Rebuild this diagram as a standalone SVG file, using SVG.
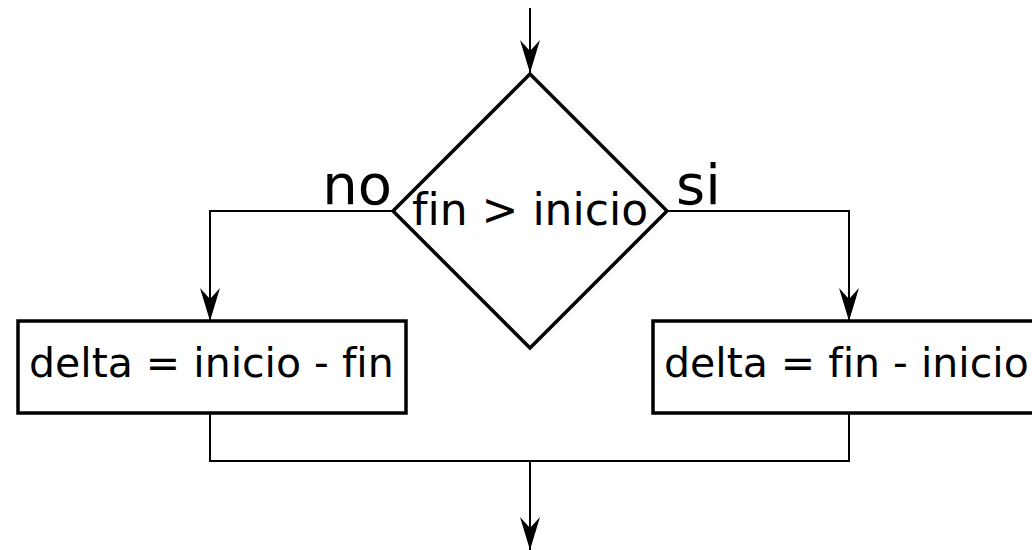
<svg xmlns="http://www.w3.org/2000/svg" width="1032" height="550" viewBox="0 0 1032 550">
<defs>
<style>
.shape{fill:#ffffff;stroke:#000000;stroke-width:3.5}
.conn{fill:none;stroke:#000000;stroke-width:2}
.t{font-family:"DejaVu Sans",sans-serif;fill:#000000;font-variant-ligatures:none;font-feature-settings:"liga" 0}
</style>
<marker id="arrow" markerUnits="userSpaceOnUse" viewBox="-34 -11 35 22" markerWidth="35" markerHeight="22" refX="0" refY="0" orient="auto">
<path d="M0,0 L-33,-10 L-22,0 L-33,10 Z" fill="#000000"/>
</marker>
</defs>
<rect width="1032" height="550" fill="#ffffff"/>
<g id="connectors">
<path class="conn" d="M530,8 V73" marker-end="url(#arrow)"/>
<path class="conn" d="M393,211 H210 V321" marker-end="url(#arrow)"/>
<path class="conn" d="M667,211 H849 V321" marker-end="url(#arrow)"/>
<path class="conn" d="M210,413 V461 H849 V413"/>
<path class="conn" d="M530,461 V550" marker-end="url(#arrow)"/>
</g>
<g id="decision">
<polygon class="shape" points="530,74 667,211 530,348 393,211"/>
<text class="t" x="530" y="225" font-size="44" text-anchor="middle">fin &gt; inicio</text>
</g>
<g id="label-no">
<text class="t" x="392" y="204" font-size="56" text-anchor="end">no</text>
</g>
<g id="label-si">
<text class="t" x="676" y="204" font-size="56">si</text>
</g>
<g id="box-no">
<rect class="shape" x="18" y="321" width="388" height="92"/>
<text class="t" x="29" y="377" font-size="41">delta = inicio - fin</text>
</g>
<g id="box-si">
<rect class="shape" x="653" y="321" width="400" height="92"/>
<text class="t" x="664" y="377" font-size="41">delta = fin - inicio</text>
</g>
</svg>
